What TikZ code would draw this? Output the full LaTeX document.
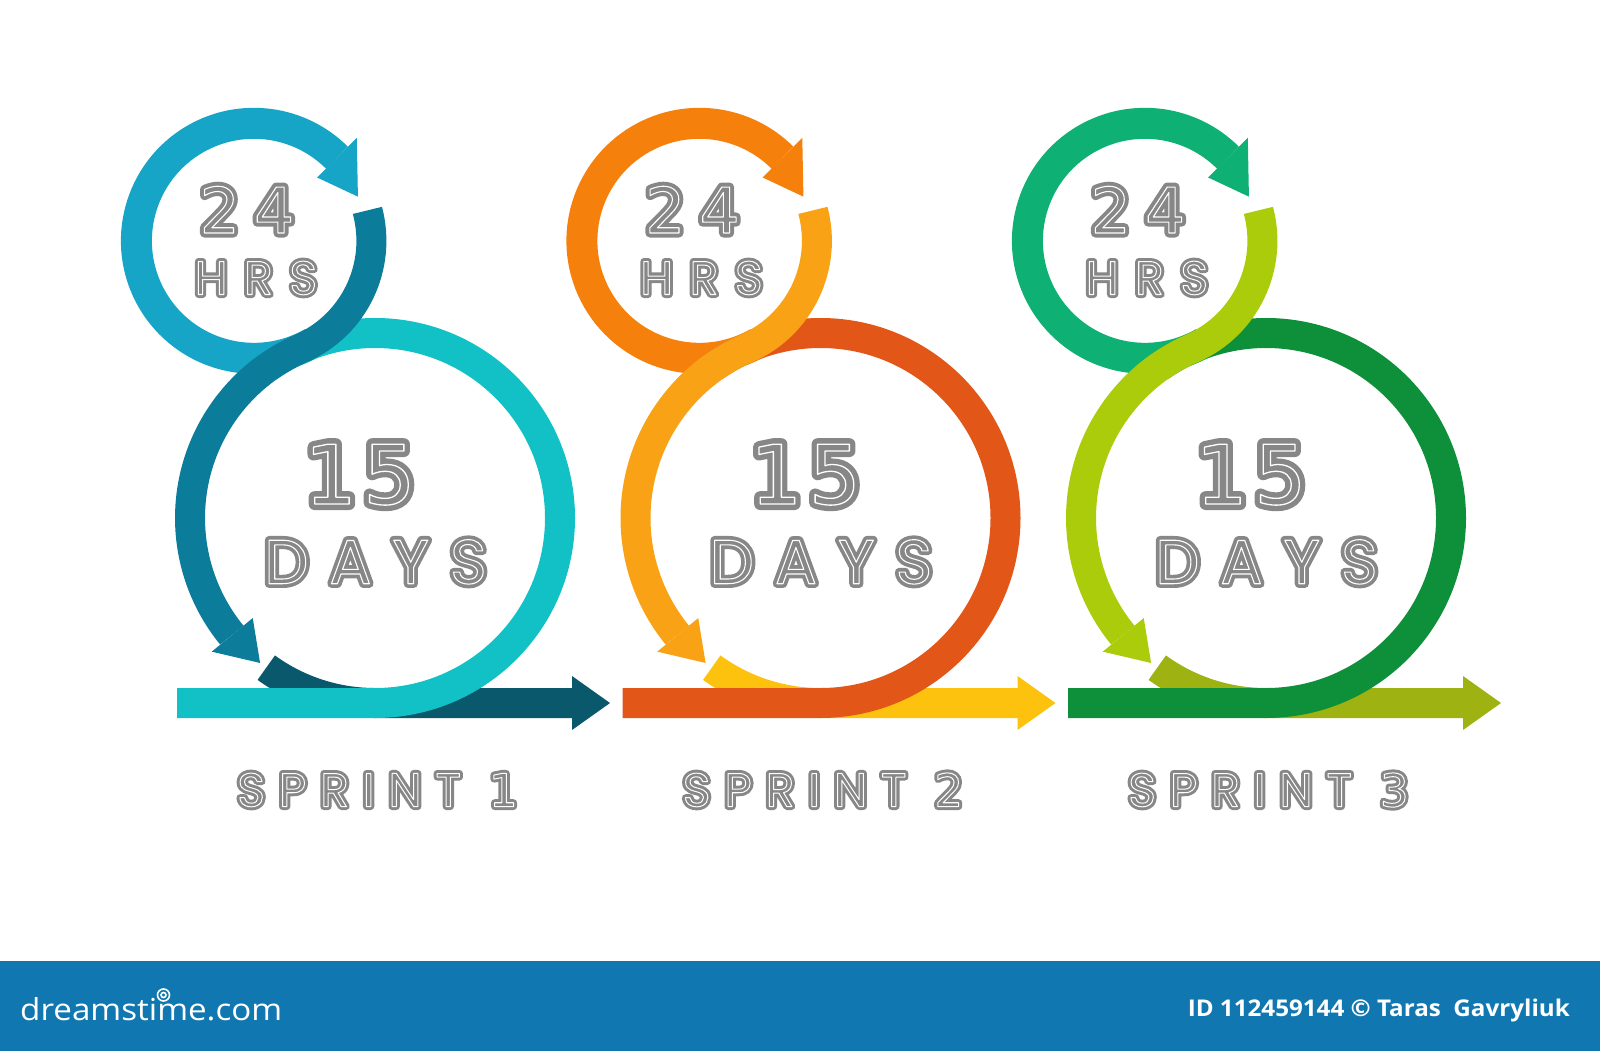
\documentclass[tikz,border=0pt]{standalone}
\usepackage{fontspec}
\usepackage{graphicx}
\usetikzlibrary{calc}

\newfontfamily\wordfont{Poppins}
\newfontfamily\digitfont{DejaVu Sans}
\newfontfamily\logofont{Open Sans}

\definecolor{smallA}{RGB}{22,165,199}
\definecolor{crossA}{RGB}{12,124,155}
\definecolor{bigA}{RGB}{18,193,198}
\definecolor{outA}{RGB}{10,88,108}
\definecolor{smallB}{RGB}{245,128,12}
\definecolor{crossB}{RGB}{250,162,22}
\definecolor{bigB}{RGB}{226,86,24}
\definecolor{outB}{RGB}{252,194,14}
\definecolor{smallC}{RGB}{14,176,116}
\definecolor{crossC}{RGB}{170,204,10}
\definecolor{bigC}{RGB}{14,144,58}
\definecolor{outC}{RGB}{158,178,18}
\definecolor{labelgray}{RGB}{135,135,135}
\definecolor{bannerblue}{RGB}{17,119,176}

% gray letters with a thin white line inside
\newcommand\inlined[3]{%
  \rlap{\special{pdf:literal direct 1 j 2 Tr #1 w}#3\special{pdf:literal direct 0 Tr}}%
  {\color{white}\special{pdf:literal direct 1 Tr #2 w}#3\special{pdf:literal direct 0 Tr}}}
\newcommand\spread[2]{\makebox[#1][s]{#2}}

\begin{document}
\begin{tikzpicture}[x=1pt,y=-1pt,
  smallring/.style={line width=31pt},
  bigring/.style={line width=30pt},
  graytext/.style={inner sep=0pt,anchor=base,text=labelgray}]
  \useasboundingbox (0,0) rectangle (1600,1051);
  \foreach \g/\name/\num in {0/A/1,1/B/2,2/C/3}{
    \pgfmathsetmacro\dx{445.5*\g}
    \coordinate (big\name) at (375+\dx,518);
    \coordinate (small\name) at ($(big\name)+(246.4:302.5)$);
    % 24 hrs loop
    \draw[smallring,draw=small\name] ($(small\name)+(60:117.5)$) arc[start angle=60,end angle=315,radius=117.5];
    \fill[fill=small\name] ($(small\name)+(315:89.5)$) -- ($(small\name)+(315:145.5)$) -- ($(small\name)+(337:113)$) -- cycle;
    % arrow out of the sprint
    \draw[bigring,draw=out\name] ($(big\name)+(126:185)$) arc[start angle=126,end angle=90,radius=185] -- (573+\dx,703);
    \fill[fill=out\name] (572+\dx,676) -- (610+\dx,703) -- (572+\dx,730) -- cycle;
    % 15 days ring
    \draw[bigring,draw=big\name] (177+\dx,703) -- ($(big\name)+(90:185)$) arc[start angle=90,end angle=-125,radius=185];
    % crossing from the small loop into the big one
    \draw[bigring,draw=cross\name] ($(small\name)+(-15:117.5)$) arc[start angle=-15,end angle=66.4,radius=117.5]
      arc[start angle=246.4,end angle=140.7,radius=185];
    \fill[fill=cross\name] ($(big\name)+(140.7:158)$) -- ($(big\name)+(140.7:211)$) -- ($(big\name)+(128.4:185)$) -- cycle;
    % texts
    \node[graytext,font=\digitfont\fontsize{63pt}{63pt}\selectfont] (hours\name) at (247+\dx,233)
      {\inlined{9}{1.1}{\spread{94.5pt}{2\hfil 4}}};
    \node[graytext,font=\wordfont\fontsize{47.3pt}{47.3pt}\selectfont] (hrs\name) at (256+\dx,294.5)
      {\inlined{7}{1}{\spread{122.5pt}{H\hfil R\hfil S}}};
    \node[graytext,font=\digitfont\fontsize{82pt}{82pt}\selectfont] (days\name) at (360+\dx,504)
      {\inlined{12}{1.3}{\spread{111pt}{1\hfil 5}}};
    \node[graytext,font=\wordfont\fontsize{62.4pt}{62.4pt}\selectfont] (daysword\name) at (375.5+\dx,583.7)
      {\inlined{8.5}{1.1}{\spread{222.5pt}{D\hfil A\hfil Y\hfil S}}};
    \node[graytext,font=\wordfont\fontsize{47.3pt}{47.3pt}\selectfont] (sprint\name) at (377.5+\dx,806.5)
      {\inlined{7}{1}{\spread{280.5pt}{S\hfil P\hfil R\hfil I\hfil N\hfil T\hfil\hfil{\digitfont\fontsize{45.3pt}{45.3pt}\selectfont\num}}}};
  }
  % banner
  \fill[bannerblue] (0,961) rectangle (1600,1051);
  \node[anchor=base west,inner sep=0pt,text=white] (site) at (20,1020)
    {\resizebox{262pt}{23pt}{\logofont dreamstime.com}};
  \draw[white,line width=1.6pt] (163.5,995) circle[radius=6] (163.5,995) circle[radius=2.5];
  \node[anchor=base east,inner sep=0pt,text=white] (credit) at (1570,1016)
    {\resizebox{382pt}{17.5pt}{\logofont\bfseries ID 112459144 \textcopyright{} Taras\ \ Gavryliuk}};
\end{tikzpicture}
\end{document}
